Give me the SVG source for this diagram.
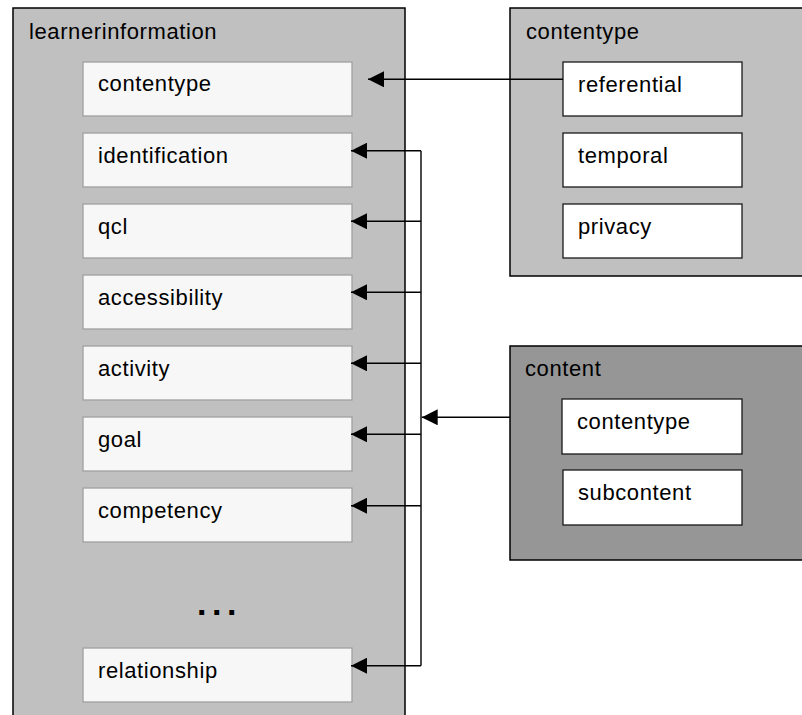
<svg xmlns="http://www.w3.org/2000/svg" width="802" height="715" viewBox="0 0 802 715">
<defs>
<style>
text{font-family:"Liberation Sans",Arial,sans-serif;font-size:22px;letter-spacing:0.6px;fill:#000}
.outer{fill:#c0c0c0;stroke:#000;stroke-width:1.5}
.dark{fill:#969696;stroke:#000;stroke-width:1.5}
.item{fill:#f7f7f7;stroke:#a0a0a0;stroke-width:1.3}
.sub{fill:#fff;stroke:#1a1a1a;stroke-width:1.3}
.conn{fill:none;stroke:#000;stroke-width:1.4}
</style>
<marker id="arr" viewBox="0 0 16 16" refX="16" refY="8" markerWidth="16" markerHeight="16" markerUnits="userSpaceOnUse" orient="auto">
<path d="M0,0 L16,8 L0,16 Z" fill="#000"/>
</marker>
</defs>
<g id="learnerinformation">
<rect class="outer" x="13" y="8" width="392" height="730"/>
<text x="29" y="39">learnerinformation</text>
</g>
<g id="li-contentype"><rect class="item" x="83" y="62" width="269" height="54"/><text x="98" y="91">contentype</text></g>
<g id="li-identification"><rect class="item" x="83" y="133" width="269" height="54"/><text x="98" y="163">identification</text></g>
<g id="li-qcl"><rect class="item" x="83" y="204" width="269" height="54"/><text x="98" y="234">qcl</text></g>
<g id="li-accessibility"><rect class="item" x="83" y="275" width="269" height="54"/><text x="98" y="305">accessibility</text></g>
<g id="li-activity"><rect class="item" x="83" y="346" width="269" height="54"/><text x="98" y="376">activity</text></g>
<g id="li-goal"><rect class="item" x="83" y="417" width="269" height="54"/><text x="98" y="447">goal</text></g>
<g id="li-competency"><rect class="item" x="83" y="488" width="269" height="54"/><text x="98" y="518">competency</text></g>
<g id="li-ellipsis"><text x="197" y="615" style="font-size:34px;font-weight:bold;letter-spacing:5.5px">...</text></g>
<g id="li-relationship"><rect class="item" x="83" y="648" width="269" height="54"/><text x="98" y="678">relationship</text></g>

<g id="contentype">
<rect class="outer" x="510" y="8" width="310" height="268"/>
<text x="526" y="39">contentype</text>
</g>
<g id="ct-referential"><rect class="sub" x="563" y="62" width="179" height="54"/><text x="578" y="92">referential</text></g>
<g id="ct-temporal"><rect class="sub" x="563" y="133" width="179" height="54"/><text x="578" y="163">temporal</text></g>
<g id="ct-privacy"><rect class="sub" x="563" y="204" width="179" height="54"/><text x="578" y="234">privacy</text></g>

<g id="content">
<rect class="dark" x="510" y="346" width="310" height="214"/>
<text x="525" y="376">content</text>
</g>
<g id="c-contentype"><rect class="sub" x="562" y="399" width="180" height="55"/><text x="577" y="429">contentype</text></g>
<g id="c-subcontent"><rect class="sub" x="563" y="470" width="179" height="55"/><text x="578" y="500">subcontent</text></g>

<g id="connectors">
<path class="conn" d="M563,79.3 H368" marker-end="url(#arr)"/>
<path class="conn" d="M421,150.7 V665.7"/>
<path class="conn" d="M421,150.7 H351" marker-end="url(#arr)"/>
<path class="conn" d="M421,221.3 H351" marker-end="url(#arr)"/>
<path class="conn" d="M421,292.3 H351" marker-end="url(#arr)"/>
<path class="conn" d="M421,363.3 H351" marker-end="url(#arr)"/>
<path class="conn" d="M421,434.3 H351" marker-end="url(#arr)"/>
<path class="conn" d="M421,505.7 H351" marker-end="url(#arr)"/>
<path class="conn" d="M421,665.7 H351" marker-end="url(#arr)"/>
<path class="conn" d="M510,417.3 H421.7" marker-end="url(#arr)"/>
</g>
</svg>
